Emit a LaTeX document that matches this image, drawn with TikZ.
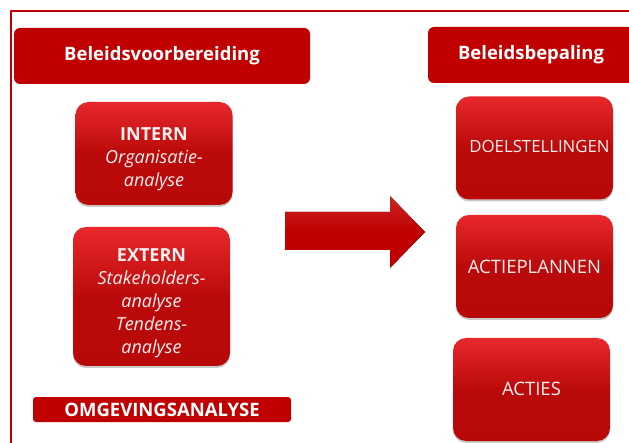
\documentclass[tikz,border=0pt]{standalone}
\usepackage{fontspec}
\setmainfont{Open Sans}
\usetikzlibrary{shadows}
\definecolor{hdred}{HTML}{C00000}
\definecolor{topred}{HTML}{E8282C}
\definecolor{botred}{HTML}{B80808}
\definecolor{txtw}{HTML}{FFF0F0}
\tikzset{
  headbox/.style={fill=hdred, rounded corners=6pt, draw=none, text=white, font=\bfseries\fontsize{18.5}{22}\selectfont, inner sep=0pt},
  bigbox/.style={rounded corners=13pt, top color=topred, bottom color=botred, middle color=botred!95!topred, draw=none, text=txtw, inner sep=0pt, minimum width=157pt, minimum height=103pt, align=center,
    drop shadow={shadow xshift=0pt, shadow yshift=-2pt, opacity=0.35, fill=black!60}},
  boxtext/.style={text=txtw, inner sep=0pt, align=center},
  bigtext/.style={font=\fontsize{18.5}{22}\selectfont},
  smalltext/.style={font=\fontsize{18}{23}\selectfont},
}
\begin{document}
\begin{tikzpicture}[x=1pt,y=-1pt]
\useasboundingbox (0,0) rectangle (629,443);
% frame
\draw[hdred, line width=1.4pt] (11,445) -- (11,11) -- (631,11);
% headers
\node[headbox, minimum width=296pt, minimum height=56pt] (bv) at (162,56) {Beleidsvoorbereiding};
\node[headbox, minimum width=206pt, minimum height=56pt] (bb) at (531,55) {Beleidsbepaling};
\node[headbox, rounded corners=3pt, minimum width=258pt, minimum height=25pt] (om) at (162,409.5) {OMGEVINGSANALYSE};
% left boxes
\node[bigbox, minimum height=103pt] (intern) at (154,153.5) {};
\node[boxtext, smalltext] (interntxt) at ([yshift=-6pt]intern.center) {\textbf{INTERN}\\\textit{Organisatie-}\\\textit{analyse}};
\node[bigbox, minimum height=139pt] (extern) at (151.5,296.5) {};
\node[boxtext, smalltext] (externtxt) at ([yshift=-7pt]extern.center) {\textbf{EXTERN}\\\textit{Stakeholders-}\\\textit{analyse}\\\textit{Tendens-}\\\textit{analyse}};
% right boxes
\node[bigbox] (doel) at (534.5,148) {};
\node[boxtext, font=\fontsize{16.8}{20}\selectfont] (doeltxt) at ([xshift=5pt,yshift=2pt]doel.center) {DOELSTELLINGEN};
\node[bigbox, bigtext] (actp) at (534.5,266.5) {ACTIEPLANNEN};
\node[bigbox, bigtext] (act) at (531.5,389.5) {\raisebox{1pt}{ACTIES}};
% arrow
\fill[top color=hdred!85!white, bottom color=hdred, middle color=hdred]
  (285,212) -- (390,212) -- (390,196) -- (425,232) -- (390,268) -- (390,250) -- (285,250) -- cycle;
\end{tikzpicture}
\end{document}
